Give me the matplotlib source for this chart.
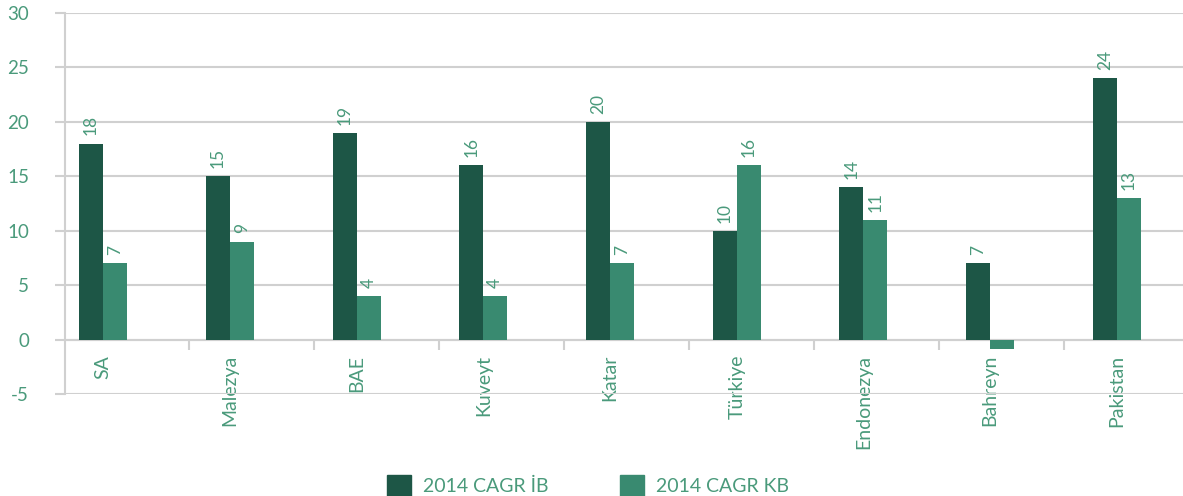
import numpy as np
import matplotlib
matplotlib.use('Agg')
import matplotlib.pyplot as plt
from matplotlib.patches import Patch

categories = ['SA', 'Malezya', 'BAE', 'Kuveyt', 'Katar', 'Türkiye',
              'Endonezya', 'Bahreyn', 'Pakistan']
cagr_ib = [18, 15, 19, 16, 20, 10, 14, 7, 24]
cagr_kb = [7, 9, 4, 4, 7, 16, 11, -0.9, 13]
series_names = ['2014 CAGR İB', '2014 CAGR KB']

dark = '#1d5646'
light = '#398a70'
text_c = '#4a9a7b'
grid_c = '#d0d0d0'

plt.rcParams['font.family'] = ['Lato', 'DejaVu Sans']
plt.rcParams['axes.unicode_minus'] = False

fig = plt.figure(figsize=(11.83, 4.96), dpi=100)
ax = fig.add_axes([0.055, 0.2056, 0.945, 0.7682])

x = np.arange(len(categories))
w = 0.1894
b1 = ax.bar(x - w / 2, cagr_ib, w, color=dark, zorder=3)
b2 = ax.bar(x + w / 2, cagr_kb, w, color=light, zorder=3)

for bars, vals in ((b1, cagr_ib), (b2, cagr_kb)):
    for rect, v in zip(bars, vals):
        if v <= 0:
            continue
        ax.text(rect.get_x() + rect.get_width() / 2, v + 0.75, f'{v:g}',
                rotation=90, ha='center', va='bottom', fontsize=12.5,
                color=text_c, zorder=4)

ax.set_xlim(-0.2998, 8.521)
ax.set_ylim(-5, 30)
ax.set_yticks(np.arange(-5, 31, 5))
ax.yaxis.grid(True, color=grid_c, linewidth=1.5, zorder=0)
ax.tick_params(axis='y', colors=grid_c, length=7, width=1.5, pad=19,
               labelcolor=text_c, labelsize=13.5)

# category axis sits on the zero line, separators between groups
ax.spines['bottom'].set_position(('data', 0))
ax.spines['bottom'].set_color(grid_c)
ax.spines['bottom'].set_linewidth(1.5)
ax.set_xticks(x)
ax.set_xticklabels(categories, rotation=90, color=text_c, fontsize=14,
                   va='top', ha='center')
ax.set_xticks(0.6785 + 0.9862 * np.arange(len(categories) - 1), minor=True)
ax.tick_params(axis='x', which='major', length=0, pad=11)
ax.tick_params(axis='x', which='minor', length=7, width=1.5, colors=grid_c,
               direction='out')

ax.spines['left'].set_color(grid_c)
ax.spines['left'].set_linewidth(1.5)
ax.spines['top'].set_visible(False)
ax.spines['right'].set_visible(False)

handles = [Patch(color=dark), Patch(color=light)]
fig.legend(handles, series_names, loc='lower center',
           bbox_to_anchor=(0.497, -0.035), ncol=2, frameon=False,
           handlelength=1.25, handleheight=1.3, handletextpad=0.6,
           columnspacing=3.7, fontsize=14, labelcolor=text_c)

fig.savefig('out.png', dpi=100)
